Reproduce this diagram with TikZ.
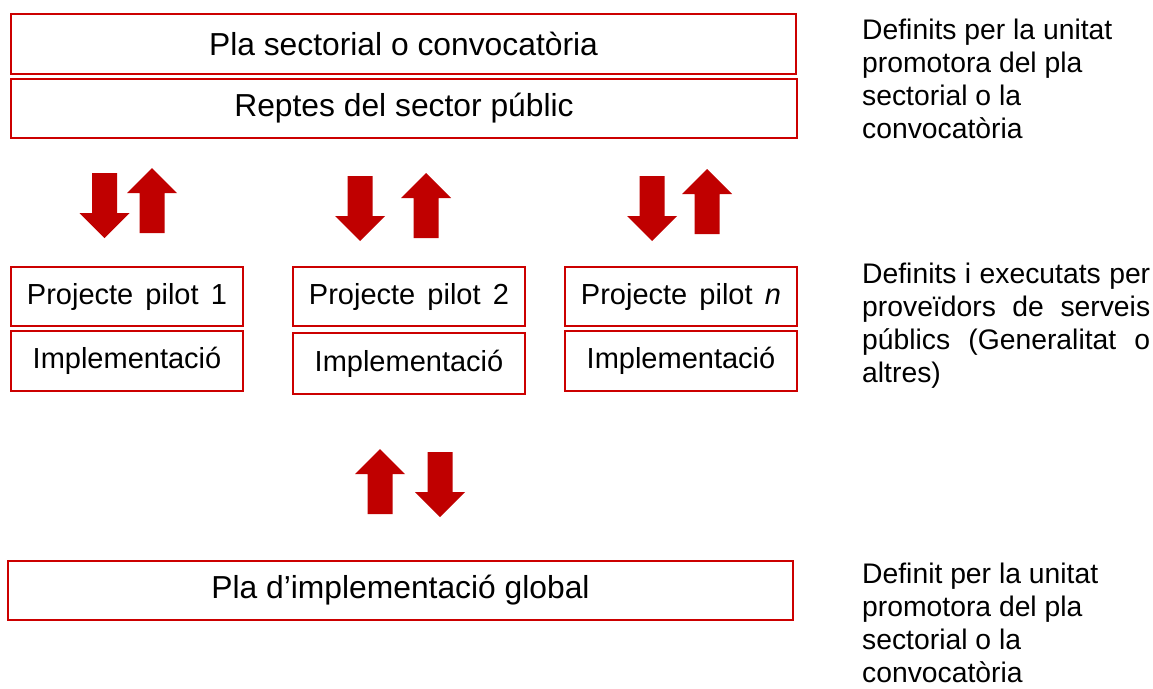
\documentclass[tikz,border=0pt]{standalone}
\usepackage{fontspec}
\setmainfont{Liberation Sans}
\definecolor{arrred}{HTML}{C00000}
\definecolor{boxred}{HTML}{CC0000}
\tikzset{
  redbox/.style={draw=boxred, line width=1.6pt, inner sep=0pt, fill=white},
  bigbox/.style={redbox, minimum width=785pt, minimum height=60pt, font=\fontsize{31.8}{36}\selectfont},
  smallbox/.style={redbox, minimum width=232pt, minimum height=59pt, font=\fontsize{29}{33}\selectfont},
  note/.style={anchor=base west, inner sep=0pt, font=\fontsize{28.3}{33}\selectfont},
}
\newcommand\arrdown[2]{\fill[arrred] (#1,#2) ++(-12.5,0) -- ++(25,0) -- ++(0,40) -- ++(12.5,0) -- ++(-25,25) -- ++(-25,-25) -- ++(12.5,0) -- cycle;}
\newcommand\arrup[2]{\fill[arrred] (#1,#2) -- ++(25,25) -- ++(-12.5,0) -- ++(0,40) -- ++(-25,0) -- ++(0,-40) -- ++(-12.5,0) -- cycle;}
\begin{document}
\begin{tikzpicture}[x=1pt,y=-1pt]
\useasboundingbox[fill=white] (0,0) rectangle (1153,688);
% top boxes
\node[bigbox] (b1) at (403.5,44) {Pla sectorial o convocatòria};
\node[bigbox, minimum width=786pt, minimum height=59pt] (b2) at (404,108.5) {Reptes del sector públic};
% arrows row 1
\arrdown{104.5}{173}
\arrup{152}{168}
\arrdown{360}{176}
\arrup{426}{173}
\arrdown{652}{176}
\arrup{707}{169}
% pilot boxes
\node[smallbox] (p1) at (127,296.5) {Projecte\hspace{0.42em}pilot\hspace{0.42em}1};
\node[smallbox, minimum height=60pt] (i1) at (127,361) {Implementació};
\node[smallbox] (p2) at (409,296.5) {Projecte\hspace{0.42em}pilot\hspace{0.42em}2};
\node[smallbox, minimum height=61pt] (i2) at (409,363.5) {Implementació};
\node[smallbox] (pn) at (681,296.5) {Projecte\hspace{0.42em}pilot\hspace{0.42em}\textit{n}};
\node[smallbox, minimum height=60pt] (in) at (681,361) {Implementació};
% arrows row 2
\arrup{380}{449}
\arrdown{440}{452}
% bottom box
\node[bigbox, minimum width=785pt, minimum height=59pt] (b3) at (400.5,590.5) {Pla d’implementació global};
% notes
\node[note] (n1) at (862,39) {\parbox[t]{300pt}{\raggedright Definits per la unitat\\ promotora del pla\\ sectorial o la\\ convocatòria}};
\node[note] (n2) at (862,283) {\parbox[t]{288pt}{\makebox[288pt][s]{Definits i executats per}\\ \makebox[288pt][s]{proveïdors de serveis}\\ \makebox[288pt][s]{públics (Generalitat o}\\ altres)}};
\node[note] (n3) at (862,583) {\parbox[t]{300pt}{\raggedright Definit per la unitat\\ promotora del pla\\ sectorial o la\\ convocatòria}};
\end{tikzpicture}
\end{document}
